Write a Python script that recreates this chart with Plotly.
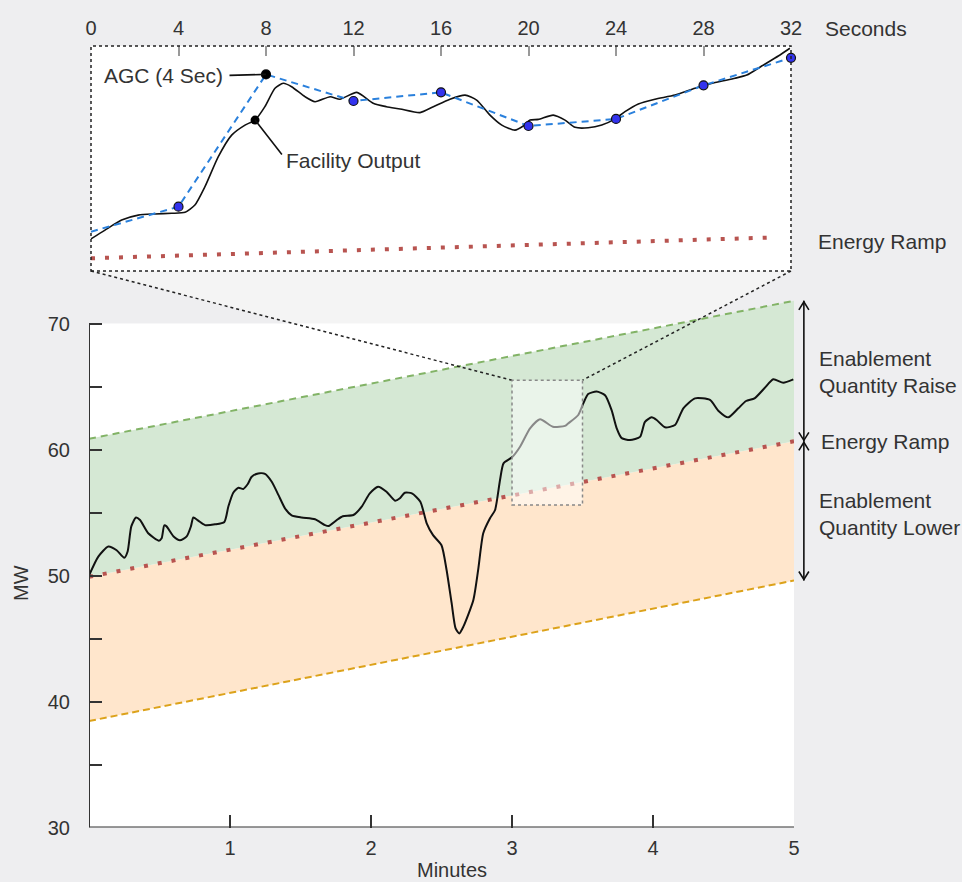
import plotly.graph_objects as go

# ---------------- DATA ----------------
# Main chart: facility output (minutes, MW)
main_minutes = [0, 0.066, 0.137, 0.196, 0.25, 0.274, 0.30, 0.333, 0.362, 0.42, 0.496, 0.515, 0.534, 0.55,
                0.60, 0.645, 0.693, 0.723, 0.74, 0.775, 0.823, 0.894, 0.96, 0.988, 1.023, 1.06, 1.094, 1.125,
                1.154, 1.2, 1.248, 1.296, 1.343, 1.39, 1.437, 1.508, 1.603, 1.674, 1.70, 1.757, 1.80, 1.875,
                1.934, 1.99, 2.05, 2.11, 2.17, 2.205, 2.24, 2.29, 2.35, 2.395, 2.44, 2.50, 2.536, 2.572, 2.60,
                2.626, 2.655, 2.726, 2.76, 2.796, 2.844, 2.88, 2.915, 2.94, 3.0, 3.057, 3.128, 3.199, 3.29,
                3.376, 3.40, 3.47, 3.506, 3.54, 3.60, 3.66, 3.707, 3.742, 3.778, 3.837, 3.908, 3.943, 3.99,
                4.026, 4.085, 4.156, 4.215, 4.298, 4.404, 4.463, 4.534, 4.605, 4.66, 4.72, 4.79, 4.853, 4.924,
                4.995]
main_output_mw = [50.0, 51.5, 52.3, 52.0, 51.4, 51.9, 53.9, 54.6, 54.4, 53.35, 52.76, 52.95, 53.98, 53.9,
                  53.1, 52.8, 53.1, 53.9, 54.6, 54.35, 54.0, 54.06, 54.25, 55.46, 56.57, 56.97, 56.87, 57.24,
                  57.84, 58.1, 58.06, 57.44, 56.4, 55.33, 54.78, 54.6, 54.46, 54.0, 53.93, 54.4, 54.7, 54.8,
                  55.46, 56.5, 57.05, 56.65, 55.94, 56.13, 56.57, 56.52, 55.86, 54.14, 53.2, 52.4, 50.44, 47.8,
                  45.8, 45.4, 45.94, 48.06, 50.44, 53.35, 54.54, 55.2, 57.58, 58.9, 59.38, 60.22, 61.68, 62.4,
                  61.8, 61.87, 62.08, 62.74, 63.67, 64.4, 64.6, 64.3, 63.1, 61.7, 60.9, 60.75, 61.0, 62.2,
                  62.55, 62.34, 61.76, 61.94, 63.27, 64.06, 63.93, 63.08, 62.55, 63.27, 63.85, 64.06, 64.86,
                  65.57, 65.3, 65.57]

# Ramp / enablement band lines (minutes, MW)
band_minutes = [0, 5]
energy_ramp_mw = [49.9, 60.65]
raise_limit_mw = [60.85, 71.8]
lower_limit_mw = [38.45, 49.6]

# Zoomed window on main chart
zoom_minutes = [3.0, 3.5]
zoom_mw = [55.6, 65.5]

# Inset: facility output (seconds, MW)
inset_seconds = [0, 0.64, 1.40, 2.16, 2.93, 3.69, 4.30, 4.75, 5.21, 5.82, 6.43, 7.04, 7.50, 7.95, 8.41,
                 8.79, 9.17, 9.78, 10.24, 10.93, 11.38, 12.15, 12.9, 13.5, 14.13, 15.04, 15.65, 16.41, 17.10,
                 17.63, 18.24, 18.78, 19.38, 19.76, 20.07, 20.45, 21.13, 21.67, 22.13, 22.73, 23.35, 23.92,
                 24.41, 25.02, 25.78, 26.70, 27.61, 28.53, 29.44, 29.98, 30.66, 31.42, 31.95]
inset_output_mw = [57.01, 57.4, 57.84, 58.06, 58.11, 58.14, 58.18, 58.5, 59.31, 60.63, 61.58, 62.02, 62.24,
                   62.83, 63.64, 63.86, 63.71, 63.27, 63.05, 63.27, 63.16, 63.46, 62.98, 62.83, 62.73, 62.57,
                   62.83, 63.16, 63.34, 63.12, 62.46, 62.02, 61.8, 61.98, 62.24, 62.27, 62.46, 62.24, 61.92,
                   61.9, 62.02, 62.27, 62.61, 62.95, 63.16, 63.34, 63.64, 63.89, 64.08, 64.22, 64.62, 65.06,
                   65.4]
facility_callout_index = 12  # point marked "Facility Output"

# Inset: AGC 4-second setpoints
agc_seconds = [0, 4, 8, 12, 16, 20, 24, 28, 32]
agc_mw = [57.33, 58.43, 64.25, 63.08, 63.46, 61.98, 62.29, 63.77, 64.98]
agc_callout_index = 2  # point marked "AGC (4 Sec)"

# Inset: energy ramp
inset_ramp_seconds = [0, 31]
inset_ramp_mw = [56.16, 57.07]

main_x_ticks = [1, 2, 3, 4, 5]
main_y_ticks = [30, 35, 40, 45, 50, 55, 60, 65, 70]
main_y_ticktext = ["30", "", "40", "", "50", "", "60", "", "70"]
inset_x_ticks = [0, 4, 8, 12, 16, 20, 24, 28, 32]

# ---------------- LAYOUT CONSTANTS ----------------
W, H = 962, 882
BG = "#eeeef0"
TXT = "#333333"
FONT = "Liberation Sans, Arial, sans-serif"
FS = 20

MAIN_XR = [0, 5]
MAIN_YR = [30, 72]
MAIN_XD = [89 / W, 794 / W]
MAIN_YD = [(H - 827.5) / H, (H - 298.3) / H]
INSET_XR = [0, 32]
INSET_YR = zoom_mw
INSET_XD = [91 / W, 791 / W]
INSET_YD = [(H - 271) / H, (H - 46) / H]

GREEN_FILL = "#d5e8d4"
GREEN_LINE = "#82b366"
ORANGE_FILL = "#ffe6cc"
ORANGE_LINE = "#dca21a"
RED = "#b85450"
BLUE = "#2a80dc"


def main_to_paper(x, y):
    px = MAIN_XD[0] + (x - MAIN_XR[0]) / (MAIN_XR[1] - MAIN_XR[0]) * (MAIN_XD[1] - MAIN_XD[0])
    py = MAIN_YD[0] + (y - MAIN_YR[0]) / (MAIN_YR[1] - MAIN_YR[0]) * (MAIN_YD[1] - MAIN_YD[0])
    return px, py


fig = go.Figure()

# ---- Bands ----
fig.add_trace(go.Scatter(x=band_minutes, y=lower_limit_mw, mode="lines", line=dict(width=0),
                         hoverinfo="skip", showlegend=False))
fig.add_trace(go.Scatter(x=band_minutes, y=energy_ramp_mw, mode="lines", line=dict(width=0),
                         fill="tonexty", fillcolor=ORANGE_FILL, hoverinfo="skip", showlegend=False))
fig.add_trace(go.Scatter(x=band_minutes, y=raise_limit_mw, mode="lines", line=dict(width=0),
                         fill="tonexty", fillcolor=GREEN_FILL, hoverinfo="skip", showlegend=False))
fig.add_trace(go.Scatter(x=band_minutes, y=lower_limit_mw, mode="lines",
                         line=dict(color=ORANGE_LINE, width=2, dash="7px,4px"), showlegend=False))
fig.add_trace(go.Scatter(x=band_minutes, y=raise_limit_mw, mode="lines",
                         line=dict(color=GREEN_LINE, width=2, dash="7px,5px"), showlegend=False))
fig.add_trace(go.Scatter(x=band_minutes, y=energy_ramp_mw, mode="lines",
                         line=dict(color=RED, width=4, dash="4px,10px"), showlegend=False))
fig.add_trace(go.Scatter(x=main_minutes, y=main_output_mw, mode="lines",
                         line=dict(color="#111111", width=2, shape="spline", smoothing=0.6),
                         showlegend=False))

# ---- Inset ----
fig.add_trace(go.Scatter(x=inset_ramp_seconds, y=inset_ramp_mw, mode="lines", xaxis="x2", yaxis="y2",
                         line=dict(color=RED, width=4, dash="4px,10px"), showlegend=False))
fig.add_trace(go.Scatter(x=inset_seconds, y=inset_output_mw, mode="lines", xaxis="x2", yaxis="y2",
                         line=dict(color="#111111", width=1.6, shape="spline", smoothing=0.6),
                         showlegend=False))
fig.add_trace(go.Scatter(x=agc_seconds, y=agc_mw, mode="lines", xaxis="x2", yaxis="y2",
                         line=dict(color=BLUE, width=2, dash="7px,5px"), showlegend=False))
fig.add_trace(go.Scatter(x=agc_seconds[1:], y=agc_mw[1:], mode="markers", xaxis="x2", yaxis="y2",
                         marker=dict(color="#3333ee", size=9, line=dict(color="#111111", width=1.2)),
                         cliponaxis=False, showlegend=False))
fig.add_trace(go.Scatter(x=[agc_seconds[agc_callout_index], inset_seconds[facility_callout_index]],
                         y=[agc_mw[agc_callout_index], inset_output_mw[facility_callout_index]],
                         mode="markers", xaxis="x2", yaxis="y2",
                         marker=dict(color="#000000", size=9), cliponaxis=False, showlegend=False))

# ---- Shapes ----
shapes = []
# main white plot area (30-70 MW)
shapes.append(dict(type="rect", xref="x", yref="y", x0=MAIN_XR[0], x1=MAIN_XR[1], y0=30, y1=70,
                   fillcolor="white", line=dict(width=0), layer="below"))
# projection cone
bl = (INSET_XD[0], INSET_YD[0])
br = (INSET_XD[1], INSET_YD[0])
tl = main_to_paper(zoom_minutes[0], zoom_mw[1])
tr = main_to_paper(zoom_minutes[1], zoom_mw[1])
shapes.append(dict(type="path", xref="paper", yref="paper",
                   path=f"M{bl[0]},{bl[1]} L{br[0]},{br[1]} L{tr[0]},{tr[1]} L{tl[0]},{tl[1]} Z",
                   fillcolor="#f5f5f5", opacity=0.8, line=dict(width=0), layer="below"))
# inset white background
shapes.append(dict(type="rect", xref="x2 domain", yref="y2 domain", x0=0, x1=1, y0=0, y1=1,
                   fillcolor="white", line=dict(width=0), layer="below"))
# inset border
shapes.append(dict(type="rect", xref="x2 domain", yref="y2 domain", x0=0, x1=1, y0=0, y1=1,
                   line=dict(color="#222222", width=1.5, dash="dot"), layer="above"))
# projection lines
for a, b in [(bl, tl), (br, tr)]:
    shapes.append(dict(type="line", xref="paper", yref="paper", x0=a[0], y0=a[1], x1=b[0], y1=b[1],
                       line=dict(color="#222222", width=1.5, dash="dot"), layer="above"))
# zoom highlight box
shapes.append(dict(type="rect", xref="x", yref="y", x0=zoom_minutes[0], x1=zoom_minutes[1],
                   y0=zoom_mw[0], y1=zoom_mw[1], fillcolor="rgba(255,255,255,0.5)",
                   line=dict(color="#888888", width=1.5, dash="dot"), layer="above"))
# axis lines
shapes.append(dict(type="line", xref="x", yref="y", x0=0, x1=0, y0=30, y1=70,
                   line=dict(color=TXT, width=2), layer="above"))
shapes.append(dict(type="line", xref="x", yref="y", x0=0, x1=5, y0=30, y1=30,
                   line=dict(color=TXT, width=2), layer="above"))
# double-headed arrows on right (paper coords so they are not clipped)
ARROW_MIN = 5.07
for top, bot in [(raise_limit_mw[1], energy_ramp_mw[1]), (energy_ramp_mw[1], lower_limit_mw[1])]:
    ax_p, top_p = main_to_paper(ARROW_MIN, top)
    _, bot_p = main_to_paper(ARROW_MIN, bot)
    shapes.append(dict(type="line", xref="paper", yref="paper", x0=ax_p, x1=ax_p, y0=top_p, y1=bot_p,
                       line=dict(color="#111111", width=1.6), layer="above"))
    shapes.append(dict(type="path", xref="paper", yref="paper", xsizemode="pixel", ysizemode="pixel",
                       xanchor=ax_p, yanchor=top_p, path="M-5,-9 L0,-1 L5,-9",
                       line=dict(color="#111111", width=1.6), layer="above"))
    shapes.append(dict(type="path", xref="paper", yref="paper", xsizemode="pixel", ysizemode="pixel",
                       xanchor=ax_p, yanchor=bot_p, path="M-5,9 L0,1 L5,9",
                       line=dict(color="#111111", width=1.6), layer="above"))

# ---- Annotations ----
tf = dict(family=FONT, size=FS, color=TXT)
lf = dict(family=FONT, size=21, color=TXT)
ann = []
ann.append(dict(text="Seconds", xref="paper", yref="paper", x=866 / W, y=(H - 28) / H,
                xanchor="center", yanchor="middle", showarrow=False, font=lf))
ann.append(dict(text="Energy Ramp", xref="paper", yref="paper", x=816 / W, y=(H - 241) / H,
                xanchor="left", yanchor="middle", showarrow=False, font=lf))
ann.append(dict(text="Enablement<br>Quantity Raise", xref="paper", yref="paper", x=817 / W,
                y=(H - 372) / H, xanchor="left", yanchor="middle", align="left", showarrow=False, font=lf))
ann.append(dict(text="Energy Ramp", xref="paper", yref="paper", x=819 / W, y=(H - 441) / H,
                xanchor="left", yanchor="middle", showarrow=False, font=lf))
ann.append(dict(text="Enablement<br>Quantity Lower", xref="paper", yref="paper", x=817 / W,
                y=(H - 514) / H, xanchor="left", yanchor="middle", align="left", showarrow=False, font=lf))
ann.append(dict(text="Minutes", xref="paper", yref="paper", x=452 / W, y=(H - 870) / H,
                xanchor="center", yanchor="middle", showarrow=False, font=tf))
ann.append(dict(text="MW", xref="paper", yref="paper", x=21 / W, y=(H - 583) / H, textangle=-90,
                xanchor="center", yanchor="middle", showarrow=False, font=tf))
# callouts
ann.append(dict(text="", xref="x2", yref="y2", x=agc_seconds[agc_callout_index],
                y=agc_mw[agc_callout_index], showarrow=True, arrowhead=0, arrowwidth=1.6,
                arrowcolor="#111111", ax=-38, ay=1))
ann.append(dict(text="AGC (4 Sec)", xref="x2", yref="y2", x=agc_seconds[agc_callout_index],
                y=agc_mw[agc_callout_index], xshift=-41, yshift=-1, xanchor="right", yanchor="middle",
                showarrow=False, font=lf))
ann.append(dict(text="", xref="x2", yref="y2", x=inset_seconds[facility_callout_index],
                y=inset_output_mw[facility_callout_index], showarrow=True, arrowhead=0, arrowwidth=1.6,
                arrowcolor="#111111", ax=28, ay=36))
ann.append(dict(text="Facility Output", xref="x2", yref="y2", x=inset_seconds[facility_callout_index],
                y=inset_output_mw[facility_callout_index], xshift=29, yshift=-40, xanchor="left",
                yanchor="middle", showarrow=False, font=lf))

fig.update_layout(
    width=W, height=H, margin=dict(l=0, r=0, t=0, b=0, autoexpand=False),
    paper_bgcolor=BG, plot_bgcolor="rgba(0,0,0,0)",
    font=tf, showlegend=False, shapes=shapes, annotations=ann,
    xaxis=dict(domain=MAIN_XD, range=MAIN_XR, anchor="y", tickvals=main_x_ticks, automargin=False,
               ticks="inside", ticklen=13, tickwidth=2, tickcolor=TXT, showgrid=False,
               zeroline=False, showline=False, tickfont=tf, ticklabelstandoff=6),
    yaxis=dict(domain=MAIN_YD, range=MAIN_YR, anchor="x", tickvals=main_y_ticks, automargin=False,
               ticktext=main_y_ticktext, ticks="inside", ticklen=13, tickwidth=2, tickcolor=TXT,
               showgrid=False, zeroline=False, showline=False, tickfont=tf, ticklabelstandoff=18),
    xaxis2=dict(domain=INSET_XD, range=INSET_XR, anchor="y2", side="top", tickvals=inset_x_ticks,
                automargin=False,
                ticks="inside", ticklen=10, tickwidth=2, tickcolor="#999999", showgrid=False,
                zeroline=False, showline=False, tickfont=tf, ticklabelstandoff=6),
    yaxis2=dict(domain=INSET_YD, range=INSET_YR, anchor="x2", visible=False, automargin=False),
)

fig.write_html(
    "out.html",
    config={"displayModeBar": False},
    post_script="document.body.style.margin='0';document.body.style.overflow='hidden';"
                "document.documentElement.style.background='" + BG + "';",
)
